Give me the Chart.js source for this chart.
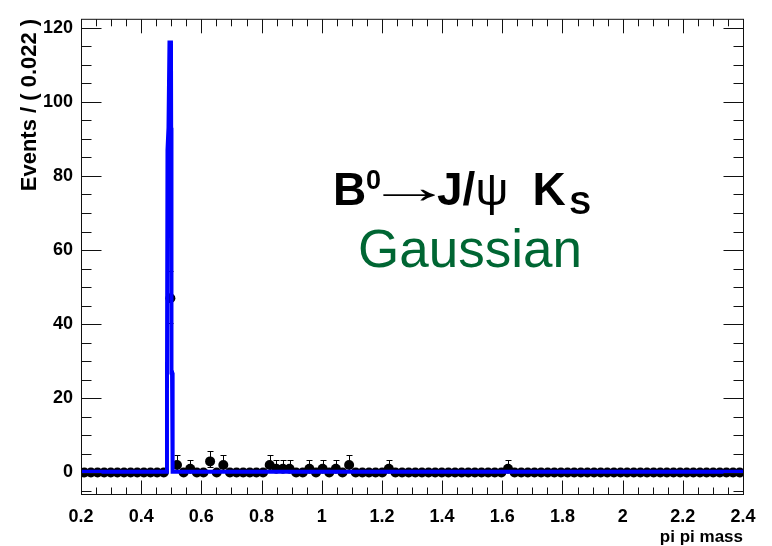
<!DOCTYPE html>
<html><head><meta charset="utf-8">
<script src="https://cdn.jsdelivr.net/npm/chart.js@4/dist/chart.umd.min.js"></script>
<style>html,body{margin:0;padding:0;background:#fff;}#wrap{position:relative;width:772px;height:546px;}</style>
</head><body><div id="wrap"><canvas id="c" width="772" height="546"></canvas></div>
<script>
// ---- data ----
const binCenters = [0.211,0.233,0.255,0.277,0.299,0.321,0.343,0.365,0.387,0.409,
0.431,0.453,0.475,0.497,0.519,0.541,0.563,0.585,0.607,0.629,
0.651,0.673,0.695,0.717,0.739,0.761,0.783,0.805,0.827,0.849,
0.871,0.893,0.915,0.937,0.959,0.981,1.003,1.025,1.047,1.069,
1.091,1.113,1.135,1.157,1.179,1.201,1.223,1.245,1.267,1.289,
1.311,1.333,1.355,1.377,1.399,1.421,1.443,1.465,1.487,1.509,
1.531,1.553,1.575,1.597,1.619,1.641,1.663,1.685,1.707,1.729,
1.751,1.773,1.795,1.817,1.839,1.861,1.883,1.905,1.927,1.949,
1.971,1.993,2.015,2.037,2.059,2.081,2.103,2.125,2.147,2.169,
2.191,2.213,2.235,2.257,2.279,2.301,2.323,2.345,2.367,2.389];
const counts = [0,0,0,0,0,0,0,0,0,0,
0,0,0,47,2,0,1,0,0,3,
0,2,0,0,0,0,0,0,2,1,
1,1,0,0,1,0,1,0,1,0,
2,0,0,0,0,0,1,0,0,0,
0,0,0,0,0,0,0,0,0,0,
0,0,0,0,1,0,0,0,0,0,
0,0,0,0,0,0,0,0,0,0,
0,0,0,0,0,0,0,0,0,0,
0,0,0,0,0,0,0,0,0,0];
const errLow  = {1:0.17, 2:0.71, 3:1.37, 47:40.2};
const errHigh = {1:3.30, 2:4.64, 3:5.92, 47:54.4};
const curveX = [0.2, 0.484, 0.4857, 0.4874, 0.4907, 0.494, 0.499, 0.4997, 0.5007, 0.5025, 0.5045, 2.4];
const curveY = [0.2, 0.2,   22,     87,     93,     116,   116,   93,     27,     27,     0.2,    0.2];
const xTickLabels = [0.2,0.4,0.6,0.8,1,1.2,1.4,1.6,1.8,2,2.2,2.4];
const yTickLabels = [0,20,40,60,80,100,120];
const xTitle = 'pi pi mass';
const yTitle = 'Events / ( 0.022 )';

const FONT = "'Liberation Sans', Arial, Helvetica, sans-serif";

const points = binCenters.map((x,i)=>({x:x, y:counts[i]}));
const curve = curveX.map((x,i)=>({x:x, y:curveY[i]}));

const errorBars = {
  id:'errorBars',
  beforeDatasetsDraw(chart){
    const {ctx, scales:{x,y}} = chart;
    ctx.save();
    ctx.strokeStyle='#000'; ctx.lineWidth=1;
    binCenters.forEach((c,i)=>{
      const n = counts[i]; if(!n) return;
      const px = Math.round(x.getPixelForValue(c))+0.5;
      const lo = Math.round(y.getPixelForValue(errLow[n]))+0.5;
      const hi = Math.round(y.getPixelForValue(errHigh[n]))+0.5;
      ctx.beginPath();
      ctx.moveTo(px,lo); ctx.lineTo(px,hi);
      ctx.moveTo(px-3,hi); ctx.lineTo(px+3,hi);
      ctx.moveTo(px-3,lo); ctx.lineTo(px+3,lo);
      ctx.stroke();
    });
    ctx.restore();
  }
};

const frameTicks = {
  id:'frameTicks',
  afterDatasetsDraw(chart){
    const {ctx, chartArea:{left,right,top,bottom}, scales:{x,y}} = chart;
    ctx.save();
    ctx.strokeStyle='#111'; ctx.lineWidth=1;
    ctx.strokeRect(left+0.5, top+0.5, right-left, bottom-top);
    ctx.beginPath();
    for(let i=4;i<=48;i++){
      const v=i*0.05; const len = (i%4===0)?14:7;
      const px = Math.round(x.getPixelForValue(v))+0.5;
      ctx.moveTo(px,bottom+0.5); ctx.lineTo(px,bottom+0.5-len);
      ctx.moveTo(px,top+0.5); ctx.lineTo(px,top+0.5+len);
    }
    for(let v=-5; v<=120; v+=5){
      const len = (v%20===0)?20:10;
      const py = Math.round(y.getPixelForValue(v))+0.5;
      ctx.moveTo(left+0.5,py); ctx.lineTo(left+0.5+len,py);
      ctx.moveTo(right+0.5,py); ctx.lineTo(right+0.5-len,py);
    }
    ctx.stroke();
    ctx.restore();
  }
};

const labels = {
  id:'labels',
  afterDraw(chart){
    const {ctx} = chart;
    ctx.save();
    ctx.fillStyle='#000'; ctx.textBaseline='alphabetic'; ctx.textAlign='left';
    const base1 = 205;
    // pieces chained by ink extents: gap = space before the piece's ink
    const parts = [
      {t:'B',  f:'bold 46px '+FONT, gap:0, dy:0},
      {t:'0',  f:'bold 27px '+FONT, gap:2, dy:-16},
      {t:'\u2192', f:'46px '+FONT, gap:3, dy:-2, w:53},
      {t:'J/', f:'bold 46px '+FONT, gap:1, dy:0},
      {t:'\u03C8', f:'46px '+FONT, gap:3, dy:0},
      {t:'K',  f:'bold 46px '+FONT, gap:30, dy:0},
      {t:'S',  f:'bold 32px '+FONT, gap:4, dy:9}
    ];
    let cur = 336;
    parts.forEach(p=>{
      ctx.font=p.f;
      const m = ctx.measureText(p.t);
      const inkL = -m.actualBoundingBoxLeft;
      const inkW = m.actualBoundingBoxRight + m.actualBoundingBoxLeft;
      const sx = p.w ? p.w/inkW : 1;
      const x0 = cur + p.gap;
      ctx.save(); ctx.translate(x0, base1+p.dy); ctx.scale(sx,1);
      ctx.fillText(p.t, -inkL, 0); ctx.restore();
      cur = x0 + inkW*sx;
    });
    ctx.font='53px '+FONT; ctx.fillStyle='#006633'; ctx.textAlign='center';
    ctx.fillText('Gaussian', 470, 267);
    ctx.restore();
  }
};

new Chart(document.getElementById('c'), {
  data:{datasets:[
    {type:'line', data:curve, borderColor:'#0000ff', borderWidth:4, pointRadius:0, tension:0, fill:false, clip:0, order:0},
    {type:'scatter', data:points, backgroundColor:'#000', borderColor:'#000', pointRadius:5, borderWidth:0, clip:0, order:1}
  ]},
  options:{
    responsive:false, animation:false, devicePixelRatio:1,
    layout:{padding:{top:10,right:29,left:0,bottom:0}},
    plugins:{legend:{display:false}, tooltip:{enabled:false}},
    scales:{
      x:{type:'linear', min:0.2, max:2.4,
        afterFit(s){s.height=52;},
        grid:{display:false, drawTicks:false}, border:{display:false},
        ticks:{stepSize:0.2, autoSkip:false, maxRotation:0, padding:12, color:'#000',
          font:{family:FONT, size:18, weight:'bold'},
          callback:(v)=>{const r=Math.round(v*10)/10; return xTickLabels.includes(r)? String(r):'';}},
        title:{display:true, text:xTitle, align:'end', color:'#000', padding:0,
          font:{family:FONT, size:17, weight:'bold', lineHeight:1}}
      },
      y:{type:'linear', min:-5.8, max:122.4,
        afterFit(s){s.width=81;},
        grid:{display:false, drawTicks:false}, border:{display:false},
        ticks:{stepSize:20, includeBounds:false, padding:8, color:'#000',
          font:{family:FONT, size:18, weight:'bold'},
          callback:(v)=> yTickLabels.includes(v)? String(v):''},
        title:{display:true, text:yTitle, align:'end', color:'#000', padding:{top:19,bottom:0},
          font:{family:FONT, size:22, weight:'bold', lineHeight:1}}
      }
    }
  },
  plugins:[errorBars, frameTicks, labels]
});
</script></body></html>
